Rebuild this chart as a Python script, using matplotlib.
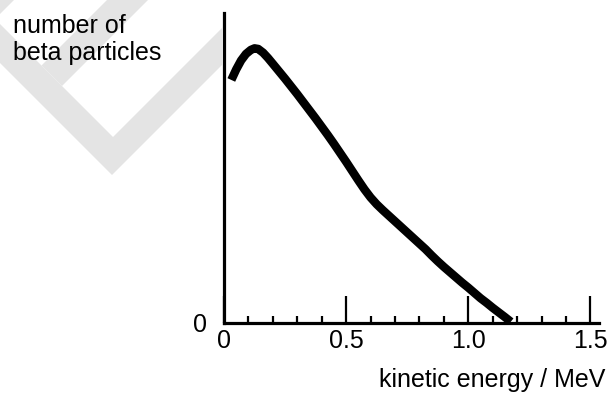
import matplotlib.pyplot as plt
from matplotlib.patches import Polygon
from matplotlib.ticker import MultipleLocator

plt.rcParams['font.family'] = ['Liberation Sans', 'DejaVu Sans']

# (energy in MeV, count in % of axis height)
energy = [0.030, 0.050, 0.070, 0.090, 0.110, 0.125, 0.140, 0.160, 0.180, 0.200,
          0.225, 0.250, 0.275, 0.300, 0.325, 0.350, 0.375, 0.400, 0.425, 0.450,
          0.475, 0.500, 0.525, 0.550, 0.575, 0.600, 0.625, 0.650, 0.675, 0.700,
          0.725, 0.750, 0.775, 0.800, 0.825, 0.850, 0.875, 0.900, 0.925, 0.950,
          0.975, 1.000, 1.025, 1.050, 1.075, 1.100, 1.125, 1.150, 1.174]
count = [78.4, 81.8, 84.7, 86.8, 88.1, 88.6, 88.4, 87.2, 85.5, 83.6,
         81.2, 78.8, 76.3, 73.8, 71.2, 68.6, 66.0, 63.3, 60.6, 57.8,
         54.9, 52.0, 49.0, 46.0, 43.1, 40.5, 38.3, 36.4, 34.6, 32.8,
         31.0, 29.2, 27.4, 25.6, 23.8, 21.8, 19.9, 18.1, 16.4, 14.7,
         13.0, 11.4, 9.7, 8.0, 6.5, 4.9, 3.4, 1.9, 0.4]
xticks = [0, 0.5, 1.0, 1.5]
xtick_labels = ['0', '0.5', '1.0', '1.5']

W, H = 609, 396
fig = plt.figure(figsize=(W / 100, H / 100), dpi=100)


def px(pts):
    # pixel coords (y down) -> figure fraction
    return [(x / W, 1 - y / H) for x, y in pts]


# faint watermark behind the label
grey = '#e4e4e4'
fig.patches.append(Polygon(px([(0, 24), (113, 137), (223, 27), (223, 64), (112, 175), (0, 63)]),
                           closed=True, transform=fig.transFigure, fc=grey, ec='none', zorder=0))
fig.patches.append(Polygon(px([(107, 0), (148, 0), (62, 86), (41.5, 65.5)]),
                           closed=True, transform=fig.transFigure, fc=grey, ec='none', zorder=0))
fig.patches.append(Polygon(px([(0, 0), (14, 0), (0, 14)]),
                           closed=True, transform=fig.transFigure, fc=grey, ec='none', zorder=0))

ax = fig.add_axes([224 / W, (H - 323) / H, (599 - 224) / W, (323 - 13) / H])
ax.patch.set_visible(False)

ax.plot(energy, count, color='black', lw=6.1, solid_capstyle='butt', solid_joinstyle='round')

ax.set_xlim(0, 1.535)
ax.set_ylim(0, 100)

for s in ['top', 'right']:
    ax.spines[s].set_visible(False)
for s in ['left', 'bottom']:
    ax.spines[s].set_linewidth(2.3)
    ax.spines[s].set_color('black')

ax.set_xticks(xticks)
ax.set_xticklabels(xtick_labels)
ax.xaxis.set_minor_locator(MultipleLocator(0.1))
ax.tick_params(axis='x', which='major', direction='in', length=19.5, width=1.6,
               labelsize=18, pad=4)
ax.tick_params(axis='x', which='minor', direction='in', length=5, width=1.6)

ax.set_yticks([0])
ax.set_yticklabels(['0'])
ax.tick_params(axis='y', length=0, labelsize=18, pad=12)

fig.text(13 / W, 1 - 14 / H, 'number of\nbeta particles', fontsize=18,
         ha='left', va='top', linespacing=1.15)
fig.text(605 / W, 1 - 387 / H, 'kinetic energy / MeV', fontsize=18,
         ha='right', va='baseline')

fig.savefig('out.png', dpi=100)
